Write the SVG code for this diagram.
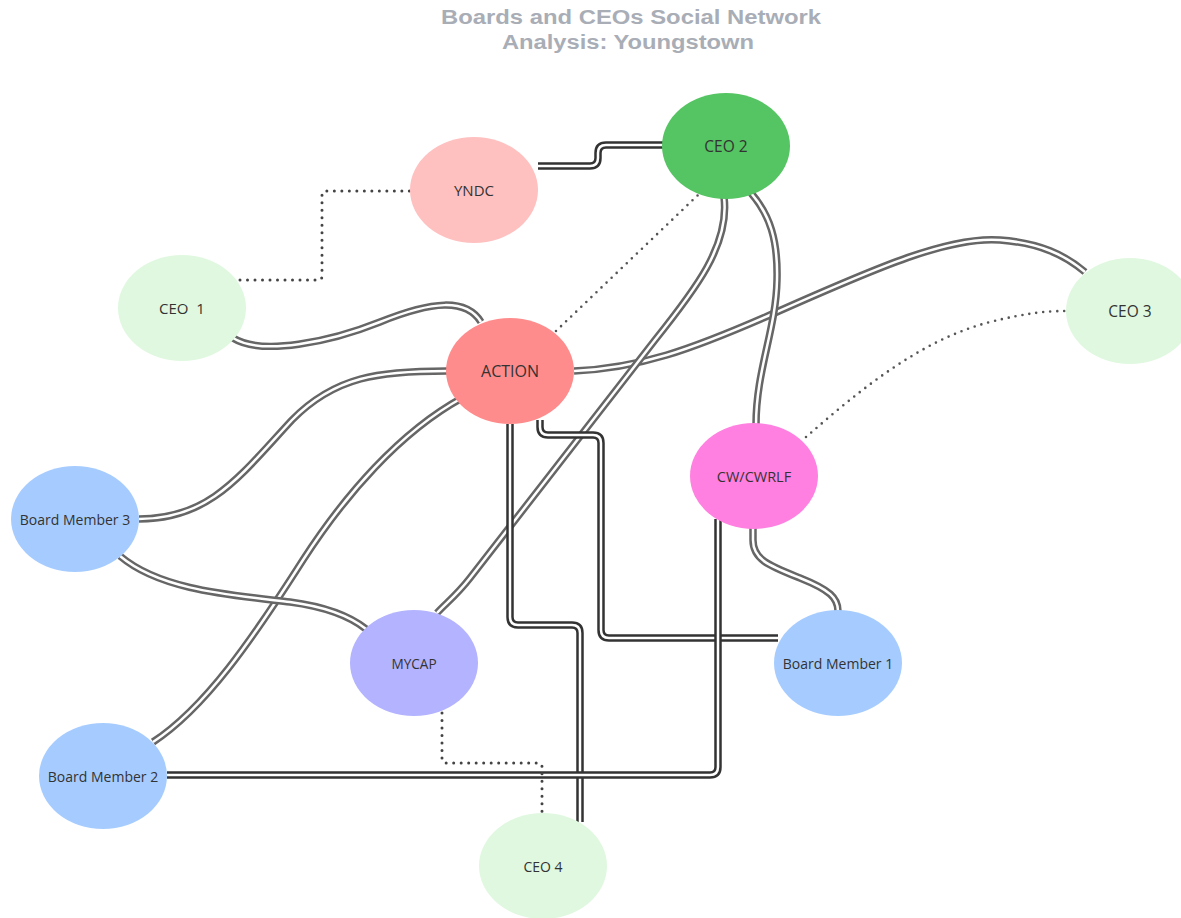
<svg xmlns="http://www.w3.org/2000/svg" xmlns:xlink="http://www.w3.org/1999/xlink" width="1181" height="918" viewBox="0 0 1181 918">
<style>
.title{font-family:"Liberation Sans",Arial,sans-serif;font-weight:bold;font-size:20px;fill:#a9adb6;text-anchor:middle}
.lbl{font-family:"Open Sans","Noto Sans",sans-serif;font-size:14px;fill:#333;text-anchor:middle;dominant-baseline:central}
.g-out{fill:none;stroke:#666;stroke-width:7.5}
.d-out{fill:none;stroke:#333;stroke-width:7.5}
.in{fill:none;stroke:#fff;stroke-width:2.5}
.dot{fill:none;stroke:#444;stroke-width:3;stroke-linecap:round;stroke-dasharray:0 7.5}
.dot2{fill:none;stroke:#555;stroke-width:2.6;stroke-linecap:round;stroke-dasharray:0 7}
</style>
<defs>
<path id="e1" d="M538,166 H590 Q598,166 598,158 V153 Q598,145 606,145 H663"/>
<path id="e3" d="M233,338 C262,356 330,342 380,322 C432,301 466,298 481,322"/>
<path id="e5" d="M574,371 C640,368 690,350 770,315 C880,266 950,236 1000,240 C1040,243 1065,255 1085,272"/>
<path id="e6" d="M724,197 C730,245 695,290 655,340 L470,578 C456,596 446,603 437,613"/>
<path id="e7" d="M751,193 C770,215 778,240 777,280 C776,330 756,370 756,425"/>
<path id="e8" d="M447,371 C380,371 335,376 292,420 C240,476 210,519 139,519"/>
<path id="e9" d="M462,398 C400,432 345,495 303,560 C252,640 205,708 153,742"/>
<path id="e10" d="M120,556 C160,590 230,595 290,602 C320,606 346,613 366,629"/>
<path id="e11" d="M510,424 V617 Q510,625 518,625 H572 Q580,625 580,633 V822"/>
<path id="e12" d="M540,420 V427 Q540,435 548,435 H593 Q601,435 601,443 V630 Q601,638 609,638 H778"/>
<path id="e13" d="M753,528 V540 C753,560 770,566 800,578 C830,590 838,598 838,611"/>
<path id="e14" d="M718,519 V767 Q718,775 710,775 H167"/>
</defs>
<text class="title" x="631" y="24" textLength="380" lengthAdjust="spacingAndGlyphs">Boards and CEOs Social Network</text>
<text class="title" x="628" y="49" textLength="252" lengthAdjust="spacingAndGlyphs">Analysis: Youngstown</text>
<g id="connectors">
<use xlink:href="#e3" class="g-out"/><use xlink:href="#e3" class="in"/>
<use xlink:href="#e5" class="g-out"/><use xlink:href="#e5" class="in"/>
<use xlink:href="#e6" class="g-out"/><use xlink:href="#e6" class="in"/>
<use xlink:href="#e7" class="g-out"/><use xlink:href="#e7" class="in"/>
<use xlink:href="#e8" class="g-out"/><use xlink:href="#e8" class="in"/>
<use xlink:href="#e9" class="g-out"/><use xlink:href="#e9" class="in"/>
<use xlink:href="#e10" class="g-out"/><use xlink:href="#e10" class="in"/>
<use xlink:href="#e13" class="g-out"/><use xlink:href="#e13" class="in"/>
<use xlink:href="#e1" class="d-out"/><use xlink:href="#e1" class="in"/>
<use xlink:href="#e11" class="d-out"/><use xlink:href="#e11" class="in"/>
<use xlink:href="#e12" class="d-out"/><use xlink:href="#e12" class="in"/>
<use xlink:href="#e14" class="d-out"/><use xlink:href="#e14" class="in"/>
<path class="dot" d="M240,280 H318 Q322,280 322,276 V195 Q322,191 326,191 H410"/>
<path class="dot2" d="M556,331 L698,195"/>
<path class="dot" d="M442,713 V759 Q442,763 446,763 H538 Q542,763 542,767 V814"/>
<path class="dot2" d="M806,437 C860,390 920,340 990,322 C1030,312 1050,311 1066,311"/>
</g>
<g id="node-ceo2"><ellipse cx="726" cy="146" rx="64" ry="53" fill="#55c462"/><text class="lbl" x="726" y="146" style="font-size:15.5px">CEO 2</text></g>
<g id="node-yndc"><ellipse cx="474" cy="190" rx="64" ry="53" fill="#ffc0c0"/><text class="lbl" x="474" y="190" style="font-size:15px">YNDC</text></g>
<g id="node-ceo1"><ellipse cx="182" cy="308" rx="64" ry="53" fill="#e0f8e0"/><text class="lbl" x="182" y="308" style="font-size:15px" xml:space="preserve">CEO  1</text></g>
<g id="node-action"><ellipse cx="510" cy="371" rx="64" ry="53" fill="#ff8c8c"/><text class="lbl" x="510" y="371" style="font-size:16px">ACTION</text></g>
<g id="node-ceo3"><ellipse cx="1130" cy="311" rx="64" ry="53" fill="#e0f8e0"/><text class="lbl" x="1130" y="311" style="font-size:15.5px">CEO 3</text></g>
<g id="node-cw"><ellipse cx="754" cy="476" rx="64" ry="53" fill="#ff80e0"/><text class="lbl" x="754" y="476" style="font-size:14.5px">CW/CWRLF</text></g>
<g id="node-bm3"><ellipse cx="75" cy="519" rx="64" ry="53" fill="#a6ccff"/><text class="lbl" x="75" y="519">Board Member 3</text></g>
<g id="node-mycap"><ellipse cx="414" cy="663" rx="64" ry="53" fill="#b3b3ff"/><text class="lbl" x="414" y="663" style="font-size:13.6px">MYCAP</text></g>
<g id="node-bm1"><ellipse cx="838" cy="663" rx="64" ry="53" fill="#a6ccff"/><text class="lbl" x="838" y="663">Board Member 1</text></g>
<g id="node-bm2"><ellipse cx="103" cy="776" rx="64" ry="53" fill="#a6ccff"/><text class="lbl" x="103" y="776">Board Member 2</text></g>
<g id="node-ceo4"><ellipse cx="543" cy="866" rx="64" ry="53" fill="#e0f8e0"/><text class="lbl" x="543" y="866">CEO 4</text></g>
</svg>
